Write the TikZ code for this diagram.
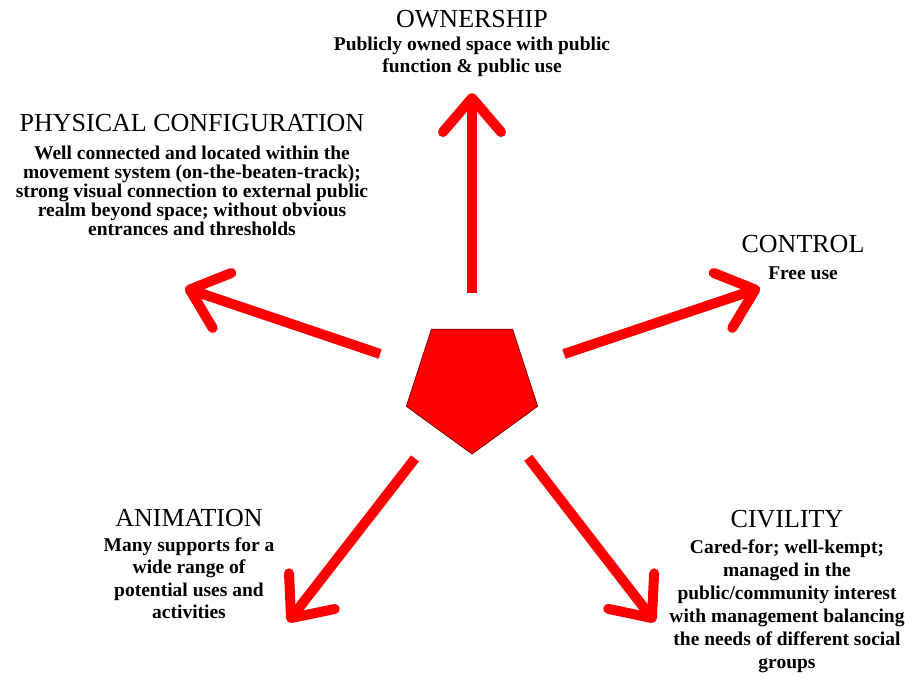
\documentclass[tikz,border=0pt]{standalone}
\usepackage{fontspec}
\setmainfont{Liberation Serif}
\usetikzlibrary{arrows.meta,shapes.geometric,positioning}

\tikzset{
    heading/.style={anchor=base, inner sep=0pt, align=center, font=\fontsize{26}{30}\selectfont},
    body/.style={inner sep=0pt, align=center, font=\bfseries\fontsize{19.5}{22.5}\selectfont},
    arr/.style={red, line width=10pt, -{Straight Barb[length=34pt, width=58pt, round]}}
}

\begin{document}
\begin{tikzpicture}[x=1pt, y=1pt]
        \useasboundingbox (0,0) rectangle (913,679);

        % --- 中央の五角形 ---
        \node[regular polygon, regular polygon sides=5, shape border rotate=180,
              minimum size=138pt, inner sep=0pt, fill=red, draw=red!55!black, line width=0.8pt]
              (pent) at (472,294) {};

        % --- 矢印の先端 ---
        \coordinate (tipO) at (472,586);
        \coordinate (tipC) at (760,391);
        \coordinate (tipP) at (185,391);
        \coordinate (tipA) at (288,57);
        \coordinate (tipV) at (655,57);

        % --- 矢印 ---
        \foreach \t/\s in {tipO/92, tipC/97, tipP/97, tipA/93, tipV/92} {
            \draw[arr, shorten <=\s pt] (pent.center) -- (\t);
        }

        % --- 見出しと説明 ---
        \node[heading] (own) at (472,651) {OWNERSHIP};
        \node[body, font=\bfseries\fontsize{19.5}{22}\selectfont, below=8pt of own] (ownT)
            {Publicly owned space with public\\function \& public use};

        \node[heading] (phys) at (192,547) {PHYSICAL CONFIGURATION};
        \node[body, font=\bfseries\fontsize{19.5}{19}\selectfont, below=13pt of phys] (physT)
            {Well connected and located within the\\movement system (on-the-beaten-track);\\strong visual connection to external public\\realm beyond space; without obvious\\entrances and thresholds};

        \node[heading] (ctrl) at (803,426) {CONTROL};
        \node[body, below=13pt of ctrl] (ctrlT) {Free use};

        \node[heading] (anim) at (189,152) {ANIMATION};
        \node[body, below=10pt of anim] (animT)
            {Many supports for a\\wide range of\\potential uses and\\activities};

        \node[heading] (civ) at (787,151) {CIVILITY};
        \node[body, font=\bfseries\fontsize{19.5}{23}\selectfont, below=11pt of civ] (civT)
            {Cared-for; well-kempt;\\managed in the\\public/community interest\\with management balancing\\the needs of different social\\groups};

    \end{tikzpicture}
\end{document}
